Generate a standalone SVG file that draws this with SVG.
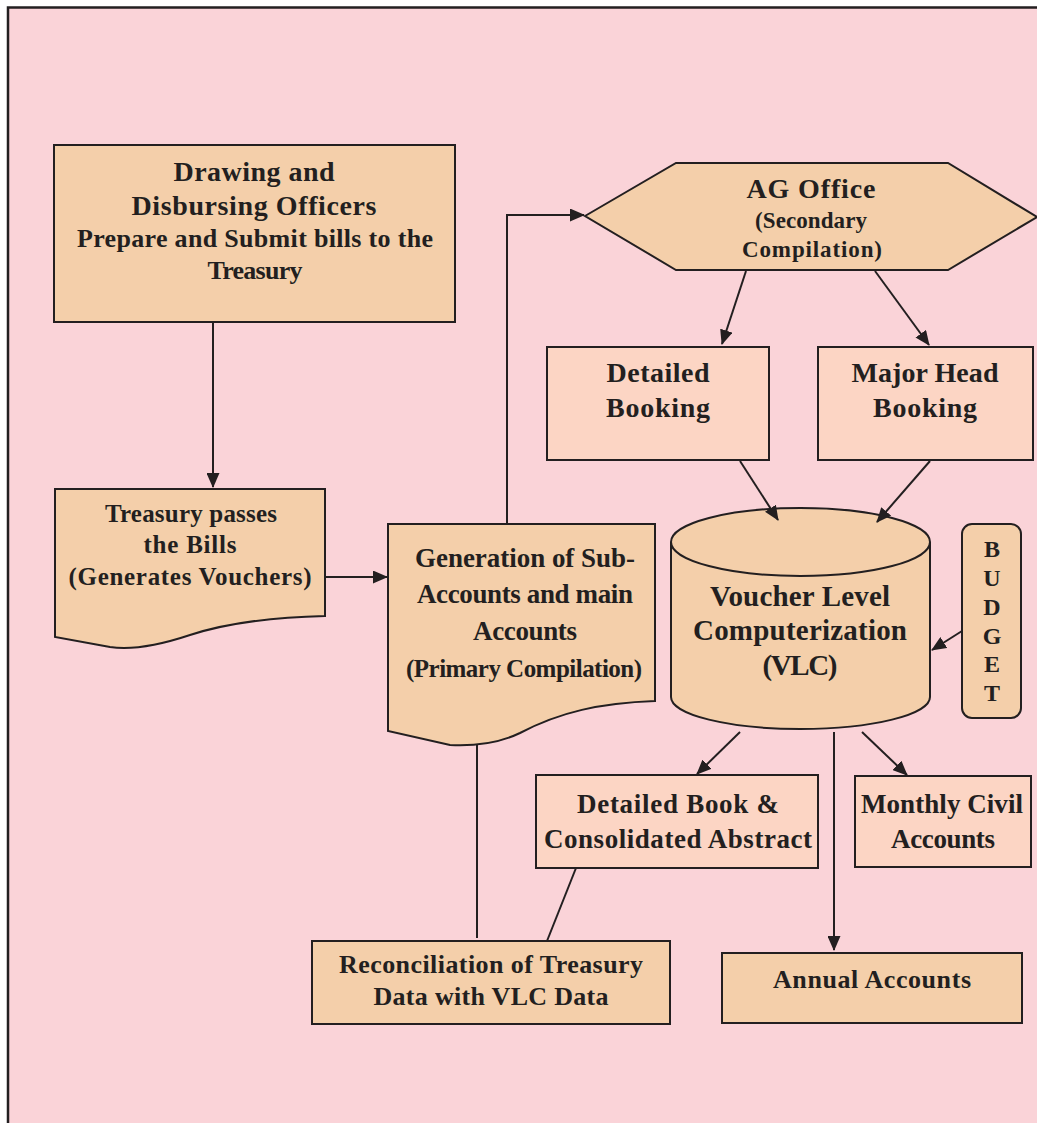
<svg xmlns="http://www.w3.org/2000/svg" width="1037" height="1123" viewBox="0 0 1037 1123">
<style>
.t{font-family:"Liberation Serif","Times New Roman",serif;font-weight:bold;fill:#231F20;text-anchor:middle}
.tan{fill:#F4CFAA;stroke:#231F20;stroke-width:2}
.sal{fill:#FCD5C4;stroke:#231F20;stroke-width:2}
.c{fill:none;stroke:#231F20;stroke-width:2}
</style>
<defs>
<marker id="ah" viewBox="0 0 15 13" refX="14" refY="6.5" markerWidth="15" markerHeight="13" markerUnits="userSpaceOnUse" orient="auto">
<path d="M0,0 L15,6.5 L0,13 Z" fill="#231F20"/>
</marker>
</defs>
<rect x="0" y="0" width="1037" height="1123" fill="#FFFFFF"/>
<rect x="8" y="7.5" width="1040" height="1130" fill="#FAD3D8" stroke="#231F20" stroke-width="2.5"/>

<g id="ddo">
<rect class="tan" x="54" y="145" width="401" height="177"/>
<text class="t" x="254" y="181" font-size="28" textLength="161" lengthAdjust="spacing">Drawing and</text>
<text class="t" x="254" y="215" font-size="28" textLength="245" lengthAdjust="spacing">Disbursing Officers</text>
<text class="t" x="255" y="247" font-size="26" textLength="356" lengthAdjust="spacing">Prepare and Submit bills to the</text>
<text class="t" x="255" y="279" font-size="26" textLength="95" lengthAdjust="spacing">Treasury</text>
</g>

<g id="treasury">
<path class="tan" d="M55,489 H325 V616 C280,617 230,622 190,635 C160,645 130,650 110,647 L55,637 Z"/>
<text class="t" x="191" y="522" font-size="25" textLength="172" lengthAdjust="spacing">Treasury passes</text>
<text class="t" x="190" y="553" font-size="25" textLength="93" lengthAdjust="spacing">the Bills</text>
<text class="t" x="190" y="585" font-size="25" textLength="243" lengthAdjust="spacing">(Generates Vouchers)</text>
</g>

<g id="generation">
<path class="tan" d="M388,524 H655 V701 C600,703 560,712 520,733 C495,745 470,746 450,745 L388,731 Z"/>
<text class="t" x="525" y="567" font-size="27" textLength="220" lengthAdjust="spacing">Generation of Sub-</text>
<text class="t" x="525" y="603" font-size="27" textLength="216" lengthAdjust="spacing">Accounts and main</text>
<text class="t" x="525" y="640" font-size="27" textLength="104" lengthAdjust="spacing">Accounts</text>
<text class="t" x="524" y="677" font-size="25" textLength="236" lengthAdjust="spacing">(Primary Compilation)</text>
</g>

<g id="ag-office">
<polygon class="tan" points="585,216 676,163 948,163 1037,217 948,270 676,270"/>
<text class="t" x="811" y="198" font-size="28" textLength="129" lengthAdjust="spacing">AG Office</text>
<text class="t" x="811" y="228" font-size="23" textLength="112" lengthAdjust="spacing">(Secondary</text>
<text class="t" x="812" y="257" font-size="23" textLength="140" lengthAdjust="spacing">Compilation)</text>
</g>

<g id="detailed-booking">
<rect class="sal" x="547" y="347" width="222" height="113"/>
<text class="t" x="658" y="382" font-size="28" textLength="103" lengthAdjust="spacing">Detailed</text>
<text class="t" x="658" y="417" font-size="28" textLength="104" lengthAdjust="spacing">Booking</text>
</g>

<g id="major-head-booking">
<rect class="sal" x="818" y="347" width="215" height="113"/>
<text class="t" x="925" y="382" font-size="28" textLength="147" lengthAdjust="spacing">Major Head</text>
<text class="t" x="925" y="417" font-size="28" textLength="104" lengthAdjust="spacing">Booking</text>
</g>

<g id="vlc">
<path class="tan" d="M671,542 V697 A129.5,32 0 0 0 930,697 V542 A129.5,34 0 0 0 671,542 Z"/>
<path class="c" d="M671,542 A129.5,34 0 0 0 930,542"/>
<text class="t" x="800" y="606" font-size="29" textLength="180" lengthAdjust="spacing">Voucher Level</text>
<text class="t" x="800" y="640" font-size="29" textLength="214" lengthAdjust="spacing">Computerization</text>
<text class="t" x="800" y="675" font-size="29" textLength="75" lengthAdjust="spacing">(VLC)</text>
</g>

<g id="budget">
<rect class="tan" x="962" y="524" width="59" height="194" rx="10"/>
<text class="t" x="992" y="557" font-size="24">B</text>
<text class="t" x="992" y="586" font-size="24">U</text>
<text class="t" x="992" y="615" font-size="24">D</text>
<text class="t" x="992" y="644" font-size="24">G</text>
<text class="t" x="992" y="672" font-size="24">E</text>
<text class="t" x="992" y="701" font-size="24">T</text>
</g>

<g id="detailed-book">
<rect class="sal" x="536" y="775" width="282" height="93"/>
<text class="t" x="678" y="813" font-size="27" textLength="202" lengthAdjust="spacing">Detailed Book &amp;</text>
<text class="t" x="678" y="848" font-size="27" textLength="268" lengthAdjust="spacing">Consolidated Abstract</text>
</g>

<g id="monthly-civil">
<rect class="sal" x="855" y="776" width="176" height="91"/>
<text class="t" x="942" y="813" font-size="27" textLength="162" lengthAdjust="spacing">Monthly Civil</text>
<text class="t" x="943" y="848" font-size="27" textLength="104" lengthAdjust="spacing">Accounts</text>
</g>

<g id="reconciliation">
<rect class="tan" x="312" y="941" width="358" height="83"/>
<text class="t" x="491" y="973" font-size="26" textLength="304" lengthAdjust="spacing">Reconciliation of Treasury</text>
<text class="t" x="491" y="1005" font-size="26" textLength="235" lengthAdjust="spacing">Data with VLC Data</text>
</g>

<g id="annual">
<rect class="tan" x="722" y="953" width="300" height="70"/>
<text class="t" x="872" y="988" font-size="26" textLength="198" lengthAdjust="spacing">Annual Accounts</text>
</g>

<g id="connectors">
<line class="c" x1="213" y1="322" x2="213" y2="487" marker-end="url(#ah)"/>
<line class="c" x1="325" y1="577" x2="387" y2="577" marker-end="url(#ah)"/>
<polyline class="c" points="507,524 507,215 584,215" marker-end="url(#ah)"/>
<line class="c" x1="746" y1="271" x2="722" y2="344" marker-end="url(#ah)"/>
<line class="c" x1="875" y1="271" x2="929" y2="345" marker-end="url(#ah)"/>
<line class="c" x1="740" y1="461" x2="778" y2="520" marker-end="url(#ah)"/>
<line class="c" x1="930" y1="461" x2="877" y2="522" marker-end="url(#ah)"/>
<line class="c" x1="962" y1="631" x2="932" y2="650" marker-end="url(#ah)"/>
<line class="c" x1="740" y1="732" x2="697" y2="774" marker-end="url(#ah)"/>
<line class="c" x1="834" y1="732" x2="834" y2="950" marker-end="url(#ah)"/>
<line class="c" x1="862" y1="732" x2="907" y2="775" marker-end="url(#ah)"/>
<line class="c" x1="477" y1="745" x2="477" y2="938"/>
<line class="c" x1="576" y1="868" x2="547" y2="941" stroke-width="1.5"/>
</g>
</svg>
